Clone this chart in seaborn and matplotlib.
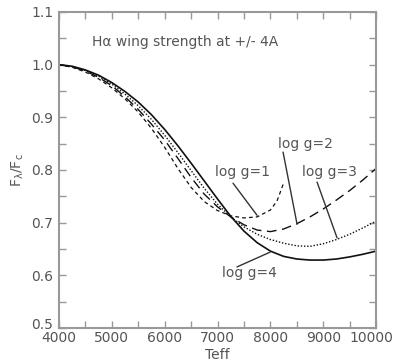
import matplotlib
matplotlib.use("Agg")
import matplotlib.pyplot as plt
from matplotlib.ticker import MultipleLocator
from matplotlib.transforms import ScaledTranslation
import pandas as pd
import seaborn as sns

# ---------- data ----------
teff_g1 = [4000, 4250, 4500, 4750, 5000, 5250, 5500, 5750, 6000, 6250, 6500, 6750,
           7000, 7250, 7500, 7750, 8000, 8125, 8250]
flux_g1 = [1.000, 0.995, 0.986, 0.973, 0.956, 0.935, 0.910, 0.879, 0.843, 0.803, 0.767, 0.740,
           0.723, 0.713, 0.709, 0.711, 0.724, 0.741, 0.775]

teff_g2 = [4000, 4250, 4500, 4750, 5000, 5250, 5500, 5750, 6000, 6250, 6500, 6750,
           7000, 7250, 7500, 7750, 8000, 8250, 8500, 8750, 9000, 9250, 9500, 9750, 10000]
flux_g2 = [1.000, 0.996, 0.988, 0.976, 0.960, 0.939, 0.915, 0.887, 0.857, 0.822, 0.786, 0.754,
           0.730, 0.711, 0.696, 0.686, 0.683, 0.688, 0.698, 0.711, 0.726, 0.743, 0.761, 0.781, 0.803]

teff_g3 = [4000, 4250, 4500, 4750, 5000, 5250, 5500, 5750, 6000, 6250, 6500, 6750,
           7000, 7250, 7500, 7750, 8000, 8250, 8500, 8750, 9000, 9250, 9500, 9750, 10000]
flux_g3 = [1.000, 0.996, 0.989, 0.978, 0.963, 0.944, 0.922, 0.896, 0.866, 0.833, 0.799, 0.765,
           0.735, 0.711, 0.692, 0.678, 0.668, 0.661, 0.656, 0.655, 0.660, 0.668, 0.678, 0.690, 0.703]

teff_g4 = [4000, 4250, 4500, 4750, 5000, 5250, 5500, 5750, 6000, 6250, 6500, 6750,
           7000, 7250, 7500, 7750, 8000, 8250, 8500, 8750, 9000, 9250, 9500, 9750, 10000]
flux_g4 = [1.000, 0.997, 0.990, 0.980, 0.966, 0.949, 0.929, 0.905, 0.877, 0.846, 0.813, 0.779,
           0.745, 0.712, 0.684, 0.662, 0.646, 0.636, 0.631, 0.629, 0.629, 0.631, 0.635, 0.640, 0.646]

labels = ["log g=1", "log g=2", "log g=3", "log g=4"]
label_pos = [(6953, 0.796), (8145, 0.849), (8600, 0.796), (7085, 0.604)]
pointer_from = [(7293, 0.775), (8240, 0.834), (8883, 0.777), (7369, 0.616)]
pointer_to = [(7748, 0.714), (8505, 0.697), (9262, 0.671), (7994, 0.644)]

title_text = "H\u03b1 wing strength at +/- 4A"

frames = []
for name, t, f in zip(labels, [teff_g1, teff_g2, teff_g3, teff_g4],
                      [flux_g1, flux_g2, flux_g3, flux_g4]):
    frames.append(pd.DataFrame({"Teff": t, "flux": f, "logg": name}))
df = pd.concat(frames, ignore_index=True)

# ---------- plot ----------
sns.set_style("ticks")
plt.rcParams["font.family"] = ["DejaVu Sans"]
gray = "#999999"
txt = "#555555"

fig = plt.figure(figsize=(3.93, 3.63), dpi=100)
ax = fig.add_axes([0.150, 0.0964, 0.807, 0.8706])

dashes = {"log g=1": (3, 2.5), "log g=2": (7, 4), "log g=3": (1, 1.3), "log g=4": None}
widths = {"log g=1": 0.9, "log g=2": 1.0, "log g=3": 1.0, "log g=4": 1.2}
for name in labels:
    sub = df[df["logg"] == name]
    sns.lineplot(data=sub, x="Teff", y="flux", ax=ax, color="#111111",
                 linewidth=widths[name], estimator=None, sort=True, legend=False)
    if dashes[name]:
        ax.lines[-1].set_dashes(dashes[name])

for name, (tx, ty), p0, p1 in zip(labels, label_pos, pointer_from, pointer_to):
    ax.text(tx, ty, name, fontsize=10, color=txt, ha="left", va="center")
    ax.annotate("", xy=p1, xytext=p0,
                arrowprops=dict(arrowstyle="-", color="#333333", lw=1.0,
                                shrinkA=0, shrinkB=0))

ax.text(4625, 1.043, title_text, fontsize=10, color=txt, ha="left", va="center")

ax.set_xlim(4000, 10000)
ax.set_ylim(0.5, 1.1)
ax.xaxis.set_major_locator(MultipleLocator(1000))
ax.xaxis.set_minor_locator(MultipleLocator(500))
ax.yaxis.set_major_locator(MultipleLocator(0.1))
ax.yaxis.set_minor_locator(MultipleLocator(0.05))
ax.yaxis.set_major_formatter(plt.FormatStrFormatter("%.1f"))

ax.tick_params(which="both", direction="in", top=True, right=True,
               length=5, width=1, color=gray, labelcolor=txt, labelsize=10)
ax.tick_params(axis="x", pad=2)
ax.tick_params(axis="y", pad=4)
for s in ax.spines.values():
    s.set_color(gray)
    s.set_linewidth(1.5)

ax.set_xlabel("Teff", fontsize=10, color=txt, labelpad=2)
ax.set_ylabel(r"$\mathrm{F_{\lambda}/F_c}$", fontsize=10, color=txt, labelpad=4)

# nudge the corner labels so they do not collide / get clipped
fig.canvas.draw()
for lab in ax.get_yticklabels():
    if abs(lab.get_position()[1] - 0.5) < 1e-6:
        lab.set_transform(lab.get_transform() + ScaledTranslation(0, 5 / 100, fig.dpi_scale_trans))
for lab in ax.get_xticklabels():
    if abs(lab.get_position()[0] - 10000) < 1e-6:
        lab.set_transform(lab.get_transform() + ScaledTranslation(-5 / 100, 0, fig.dpi_scale_trans))

fig.savefig("out.png", dpi=100)
